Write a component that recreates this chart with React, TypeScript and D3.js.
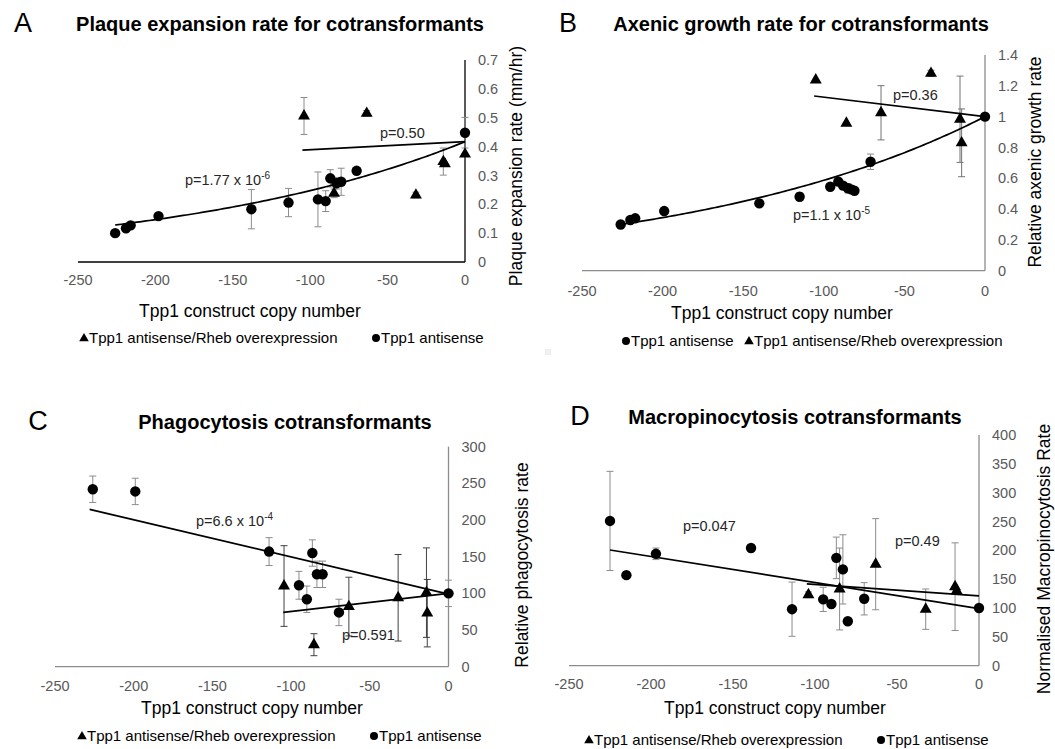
import React from "react";
import * as d3 from "d3";

// each point: [copy number, value, error]
const plaqueAntisense = [
  [-226, 0.1, 0], [-219, 0.117, 0], [-216, 0.127, 0], [-198, 0.159, 0],
  [-138, 0.183, 0.068], [-114, 0.206, 0.049], [-95, 0.217, 0.095], [-90, 0.211, 0.036],
  [-87, 0.29, 0.03], [-83, 0.273, 0.02], [-80, 0.278, 0.047], [-70, 0.316, 0], [0, 0.448, 0.053],
];
const plaqueRheb = [
  [-104, 0.506, 0.064], [-63.5, 0.515, 0.01], [-84.6, 0.238, 0.015], [-31.7, 0.232, 0.01],
  [-14, 0.348, 0.047], [-13, 0.34, 0], [0, 0.374, 0],
];
const growthAntisense = [
  [-226, 0.3, 0], [-220, 0.329, 0], [-217, 0.34, 0.02], [-199, 0.387, 0], [-140, 0.437, 0.02],
  [-115, 0.48, 0.025], [-96, 0.545, 0], [-91, 0.578, 0.02], [-88, 0.552, 0], [-85, 0.535, 0.03],
  [-83, 0.528, 0], [-81, 0.519, 0], [-71, 0.707, 0.05], [0, 1.0, 0],
];
const growthRheb = [
  [-105, 1.238, 0], [-33.5, 1.281, 0.02], [-86, 0.957, 0], [-64.5, 1.025, 0.176],
  [-15.5, 0.983, 0.28], [-14.5, 0.83, 0.22],
];
const phagoAntisense = [
  [-226, 242, 18], [-199, 239, 18], [-114, 157, 19], [-86.5, 155, 18], [-95, 111, 19],
  [-90, 92, 18], [-83.6, 126, 18], [-80, 126, 18], [-69.6, 74, 18], [0, 100, 18],
];
const phagoRheb = [
  [-104.5, 110, 55], [-85.5, 30, 15], [-63.3, 82, 40], [-32, 94, 59], [-14, 101, 61], [-13.5, 73, 46],
];
const macroAntisense = [
  [-225, 251, 86], [-215, 157, 0], [-197, 194, 10], [-139, 204, 0], [-114, 98, 47], [-95, 115, 21],
  [-90, 107, 0], [-87, 187, 36], [-83, 167, 60], [-80, 77, 0], [-70, 116, 28], [0, 100, 0],
];
const macroRheb = [
  [-104, 123, 5], [-85, 133, 71], [-63, 176, 79], [-32.5, 98, 35], [-14.6, 137, 76], [-13.6, 130, 0],
];

// fitted trend lines
const plaqueAntisenseFit = { kind: "exp", a: 0.417, b: 0.00522, from: -226, to: 0 };
const plaqueRhebFit = { kind: "lin", p0: [-105, 0.388], p1: [0, 0.417] };
const growthAntisenseFit = { kind: "exp", a: 1.0, b: 0.00533, from: -226, to: 0 };
const growthRhebFit = { kind: "lin", p0: [-106, 1.134], p1: [0, 1.0] };
const phagoAntisenseFit = { kind: "lin", p0: [-228, 214.6], p1: [0, 99] };
const phagoRhebFit = { kind: "lin", p0: [-105, 74], p1: [0, 100] };
const macroAntisenseFit = { kind: "lin", p0: [-225, 200.6], p1: [0, 99] };
const macroRhebFit = { kind: "lin", p0: [-105, 142], p1: [0, 121] };

const copyTicks = [-250, -200, -150, -100, -50, 0];
const plaqueTicks = [0, 0.1, 0.2, 0.3, 0.4, 0.5, 0.6, 0.7];
const growthTicks = [0, 0.2, 0.4, 0.6, 0.8, 1, 1.2, 1.4];
const phagoTicks = [0, 50, 100, 150, 200, 250, 300];
const macroTicks = [0, 50, 100, 150, 200, 250, 300, 350, 400];

const RHEB = "Tpp1 antisense/Rheb overexpression";
const ANTI = "Tpp1 antisense";
const FONT = "'Liberation Sans', Arial, sans-serif";

const panels = [
  {
    letter: "A", letterX: 23, title: "Plaque expansion rate for cotransformants", titleX: 280, topY: 31,
    xr: [78, 465], yr: [262, 60], yMax: 0.7, ticks: plaqueTicks, axisColor: "#000",
    yTitle: "Plaque expansion rate (mm/hr)", yTitleX: 522, yTitleY: 166,
    xTitleX: 250, xTitleY: 317, tickY: 285, rhebErr: "#8c8c8c",
    anti: plaqueAntisense, rheb: plaqueRheb, fits: [plaqueAntisenseFit, plaqueRhebFit],
    notes: [{ x: 380, y: 138, t: "p=0.50" }, { x: 185, y: 185, t: "p=1.77 x 10", sup: "-6" }],
    legendY: 338, legend: [{ s: "tri", x: 84, l: RHEB }, { s: "dot", x: 376, l: ANTI }],
  },
  {
    letter: "B", letterX: 568, title: "Axenic growth rate for cotransformants", titleX: 801, topY: 31,
    xr: [582, 985], yr: [270.7, 55], yMax: 1.4, ticks: growthTicks, axisColor: "#8c8c8c",
    yTitle: "Relative axenic growth rate", yTitleX: 1041, yTitleY: 162,
    xTitleX: 782, xTitleY: 319, tickY: 296, rhebErr: "#737373",
    anti: growthAntisense, rheb: growthRheb, fits: [growthAntisenseFit, growthRhebFit],
    notes: [{ x: 893, y: 100, t: "p=0.36" }, { x: 793, y: 220, t: "p=1.1 x 10", sup: "-5" }],
    legendY: 341, legend: [{ s: "dot", x: 626, l: ANTI }, { s: "tri", x: 749, l: RHEB }],
  },
  {
    letter: "C", letterX: 38, title: "Phagocytosis cotransformants", titleX: 285, topY: 429,
    xr: [55, 448.5], yr: [666.7, 446.7], yMax: 300, ticks: phagoTicks, axisColor: "#8c8c8c",
    yTitle: "Relative phagocytosis rate", yTitleX: 528, yTitleY: 565,
    xTitleX: 252, xTitleY: 714, tickY: 691, rhebErr: "#404040",
    anti: phagoAntisense, rheb: phagoRheb, fits: [phagoAntisenseFit, phagoRhebFit],
    notes: [{ x: 196, y: 526, t: "p=6.6 x 10", sup: "-4" }, { x: 342, y: 640, t: "p=0.591" }],
    legendY: 736, legend: [{ s: "tri", x: 82, l: RHEB }, { s: "dot", x: 374, l: ANTI }],
  },
  {
    letter: "D", letterX: 580, title: "Macropinocytosis cotransformants", titleX: 795, topY: 424,
    xr: [569, 979], yr: [665.7, 435], yMax: 400, ticks: macroTicks, axisColor: "#8c8c8c",
    yTitle: "Normalised Macropinocytosis Rate", yTitleX: 1050, yTitleY: 559,
    xTitleX: 775, xTitleY: 714, tickY: 689, rhebErr: "#8c8c8c",
    anti: macroAntisense, rheb: macroRheb, fits: [macroAntisenseFit, macroRhebFit],
    notes: [{ x: 683, y: 531, t: "p=0.047" }, { x: 895, y: 546, t: "p=0.49" }],
    legendY: 740, legend: [{ s: "tri", x: 589, l: RHEB }, { s: "dot", x: 881, l: ANTI }],
  },
];

const triangle = d3.symbol().type(d3.symbolTriangle);

function Panel({ p }: { p: any }) {
  const x = d3.scaleLinear().domain([-250, 0]).range(p.xr);
  const y = d3.scaleLinear().domain([0, p.yMax]).range(p.yr);
  const line = d3.line<number[]>().x((d) => x(d[0])).y((d) => y(d[1]));

  const fitPath = (f: any) => {
    if (f.kind === "exp") {
      const xs = d3.range(f.from, f.to + 0.01, 2);
      return line(xs.map((v) => [v, f.a * Math.exp(f.b * v)]));
    }
    return line([f.p0, f.p1]);
  };

  const errBars = (pts: number[][], color: string) =>
    pts.filter((d) => d[2] > 0).map((d, i) => {
      const cx = x(d[0]);
      const y0 = y(d[1] - d[2]);
      const y1 = y(d[1] + d[2]);
      return (
        <g key={i} stroke={color} strokeWidth={1}>
          <line x1={cx} x2={cx} y1={y0} y2={y1} />
          <line x1={cx - 3.5} x2={cx + 3.5} y1={y0} y2={y0} />
          <line x1={cx - 3.5} x2={cx + 3.5} y1={y1} y2={y1} />
        </g>
      );
    });

  return (
    <g fontFamily={FONT}>
      <text x={p.letterX} y={p.topY + 1} fontSize={27} textAnchor="middle" fill="#000">{p.letter}</text>
      <text x={p.titleX} y={p.topY} fontSize={20} fontWeight="bold" textAnchor="middle" fill="#000">{p.title}</text>

      {/* axes */}
      <line x1={p.xr[0]} x2={p.xr[1]} y1={p.yr[0]} y2={p.yr[0]} stroke={p.axisColor} strokeWidth={1.3} />
      <line x1={p.xr[1]} x2={p.xr[1]} y1={p.yr[0]} y2={p.yr[1]} stroke={p.axisColor} strokeWidth={1.3} />
      {copyTicks.map((t) => (
        <text key={t} x={x(t)} y={p.tickY} fontSize={14.5} textAnchor="middle" fill="#595959">{t}</text>
      ))}
      {p.ticks.map((t: number) => (
        <text key={t} x={p.xr[1] + 13} y={y(t)} dy="0.35em" fontSize={14.5} fill="#595959">{String(t)}</text>
      ))}
      <text x={p.xTitleX} y={p.xTitleY} fontSize={17.5} textAnchor="middle" fill="#000">Tpp1 construct copy number</text>
      <text transform={`translate(${p.yTitleX},${p.yTitleY}) rotate(-90)`} fontSize={17.5} textAnchor="middle" fill="#000">{p.yTitle}</text>

      {/* error bars */}
      {errBars(p.anti, "#8c8c8c")}
      {errBars(p.rheb, p.rhebErr)}

      {/* trend lines */}
      {p.fits.map((f: any, i: number) => (
        <path key={i} d={fitPath(f) || ""} fill="none" stroke="#000" strokeWidth={1.7} />
      ))}

      {/* markers */}
      {p.anti.map((d: number[], i: number) => (
        <circle key={i} cx={x(d[0])} cy={y(d[1])} r={5.2} fill="#000" />
      ))}
      {p.rheb.map((d: number[], i: number) => (
        <path key={i} d={triangle.size(62)() || ""} transform={`translate(${x(d[0])},${y(d[1])})`} fill="#000" />
      ))}

      {/* p values */}
      {p.notes.map((n: any, i: number) => (
        <text key={i} x={n.x} y={n.y} fontSize={14.5} fill="#262626">
          {n.t}
          {n.sup && <tspan dy={-6} fontSize={10}>{n.sup}</tspan>}
        </text>
      ))}

      {/* legend */}
      {p.legend.map((l: any, i: number) => (
        <g key={i}>
          {l.s === "dot" ? (
            <circle cx={l.x} cy={p.legendY} r={4} fill="#000" />
          ) : (
            <path d={triangle.size(40)() || ""} transform={`translate(${l.x},${p.legendY + 0.5})`} fill="#000" />
          )}
          <text x={l.x + 5} y={p.legendY} dy="0.35em" fontSize={15} fill="#000">{l.l}</text>
        </g>
      ))}
    </g>
  );
}

export default function App() {
  return (
    <svg width={1055} height={749} style={{ position: "absolute", left: 0, top: 0, background: "#fff" }}>
      <rect width={1055} height={749} fill="#fff" />
      <rect x={545} y={349} width={6} height={6} fill="#f0f0f0" />
      {panels.map((p) => (
        <Panel key={p.letter} p={p} />
      ))}
    </svg>
  );
}
